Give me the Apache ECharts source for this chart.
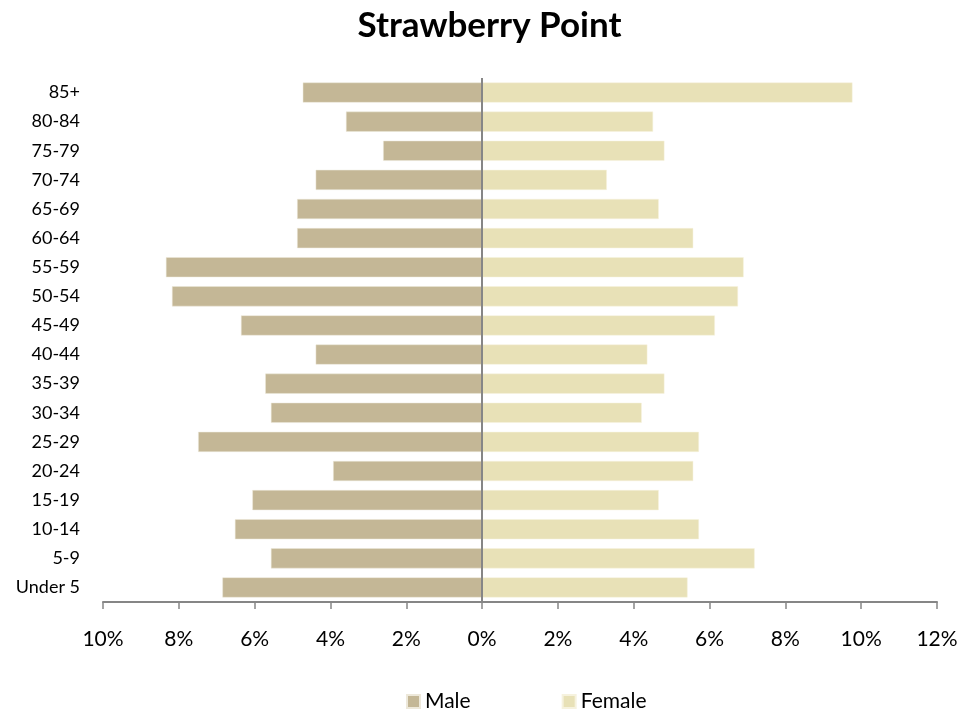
<!DOCTYPE html>
<html>
<head>
<meta charset="utf-8">
<script src="https://cdn.jsdelivr.net/npm/echarts@6/dist/echarts.min.js"></script>
<style>
html,body{margin:0;padding:0;background:#fff;}
#chart{width:979px;height:713px;}
</style>
</head>
<body>
<div id="chart"></div>
<script>
var categories = ["Under 5","5-9","10-14","15-19","20-24","25-29","30-34","35-39","40-44","45-49","50-54","55-59","60-64","65-69","70-74","75-79","80-84","85+"];
var maleValues = [6.85,5.57,6.52,6.06,3.93,7.49,5.57,5.72,4.39,6.36,8.18,8.34,4.88,4.88,4.39,2.61,3.59,4.73];
var femaleValues = [5.42,7.19,5.72,4.66,5.57,5.72,4.21,4.81,4.36,6.14,6.75,6.90,5.57,4.66,3.29,4.81,4.51,9.77];
var titleText = "Strawberry Point";

var chart = echarts.init(document.getElementById('chart'));
var font = 'Lato';
chart.setOption({
  animation: false,
  title: {
    text: titleText,
    left: 'center',
    top: 3,
    textStyle: {fontFamily: font, fontSize: 35, fontWeight: 'bold', color: '#000'}
  },
  legend: {
    top: 686,
    left: 401,
    itemWidth: 13,
    itemHeight: 13,
    itemGap: 91,
    icon: 'rect',
    textStyle: {fontFamily: font, fontSize: 21, color: '#000'},
    data: ['Male', 'Female']
  },
  grid: {left: 103, right: 42, top: 78, bottom: 111, containLabel: false},
  xAxis: {
    type: 'value',
    min: -10,
    max: 12,
    interval: 2,
    splitLine: {show: false},
    axisLine: {show: true, lineStyle: {color: '#868686', width: 2}},
    axisTick: {show: true, length: 7, lineStyle: {color: '#868686', width: 1.5}},
    axisLabel: {
      fontFamily: font, fontSize: 21, color: '#000', margin: 27,
      formatter: function (v) { return Math.abs(v) + '%'; }
    }
  },
  yAxis: {
    type: 'category',
    data: categories,
    axisLine: {show: false},
    axisTick: {show: false},
    axisLabel: {fontFamily: font, fontSize: 18, color: '#000', margin: 23}
  },
  series: [
    {
      name: 'Male',
      type: 'bar',
      barGap: '-100%',
      barCategoryGap: '31%',
      data: maleValues.map(function (v) { return -v; }),
      itemStyle: {color: '#C4B796', borderColor: '#EDE8DA', borderWidth: 0.5},
      markLine: {
        silent: true,
        symbol: 'none',
        label: {show: false},
        lineStyle: {color: '#868686', width: 2, type: 'solid'},
        data: [{xAxis: 0}]
      }
    },
    {
      name: 'Female',
      type: 'bar',
      barGap: '-100%',
      barCategoryGap: '31%',
      data: femaleValues,
      itemStyle: {color: '#E8E1B7', borderColor: '#F6F2DE', borderWidth: 0.5}
    }
  ]
});
</script>
</body>
</html>
